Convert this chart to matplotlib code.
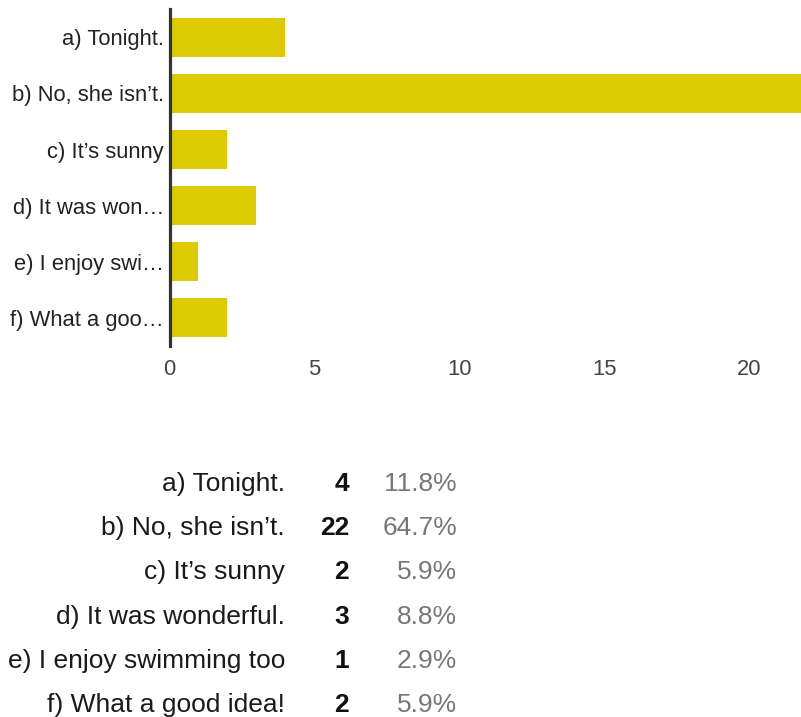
import matplotlib
matplotlib.use("Agg")
import matplotlib.pyplot as plt

plt.rcParams['font.family'] = ['Liberation Sans', 'DejaVu Sans']

# ---- data ----
categories = ["a) Tonight.", "b) No, she isn\u2019t.", "c) It\u2019s sunny",
              "d) It was wonderful.", "e) I enjoy swimming too", "f) What a good idea!"]
tick_labels = ["a) Tonight.", "b) No, she isn\u2019t.", "c) It\u2019s sunny",
               "d) It was won\u2026", "e) I enjoy swi\u2026", "f) What a goo\u2026"]
counts = [4, 22, 2, 3, 1, 2]
x_ticks = [0, 5, 10, 15, 20]

W, H = 801, 717
fig = plt.figure(figsize=(W / 100, H / 100), dpi=100)

ax_left, ax_right = 169.5, 801
ax_top, ax_bot = 9.4, 345.7
ax = fig.add_axes([ax_left / W, 1 - ax_bot / H, (ax_right - ax_left) / W, (ax_bot - ax_top) / H])

ypos = list(range(len(categories)))
ax.barh(ypos, counts, height=0.70, color="#DCCB00", zorder=2)
ax.set_ylim(len(categories) - 0.5, -0.5)
ax.set_xlim(0, 21.78)
ax.set_yticks(ypos)
ax.set_yticklabels(tick_labels, fontsize=15.8, color="#222222")
ax.set_xticks(x_ticks)
ax.set_xticklabels([str(t) for t in x_ticks], fontsize=15.8, color="#444444")
ax.tick_params(axis='both', length=0)
ax.tick_params(axis='y', pad=4)
ax.tick_params(axis='x', pad=9.5)
for s in ["top", "right", "bottom"]:
    ax.spines[s].set_visible(False)
ax.spines["left"].set_linewidth(2.3)
ax.spines["left"].set_color("#333333")
ax.spines["left"].set_zorder(3)

# ---- summary table ----
total = sum(counts)
row0, row_step = 484, 44.2
for i, (cat, c) in enumerate(zip(categories, counts)):
    y = 1 - (row0 + i * row_step) / H
    fig.text(285 / W, y, cat, ha='right', va='center', fontsize=19, color="#1a1a1a")
    fig.text(349 / W, y, str(c), ha='right', va='center', fontsize=19,
             fontweight='bold', color="#111111")
    fig.text(457 / W, y, f"{100 * c / total:.1f}%", ha='right', va='center',
             fontsize=19, color="#777777")

fig.savefig("out.png", dpi=100)
